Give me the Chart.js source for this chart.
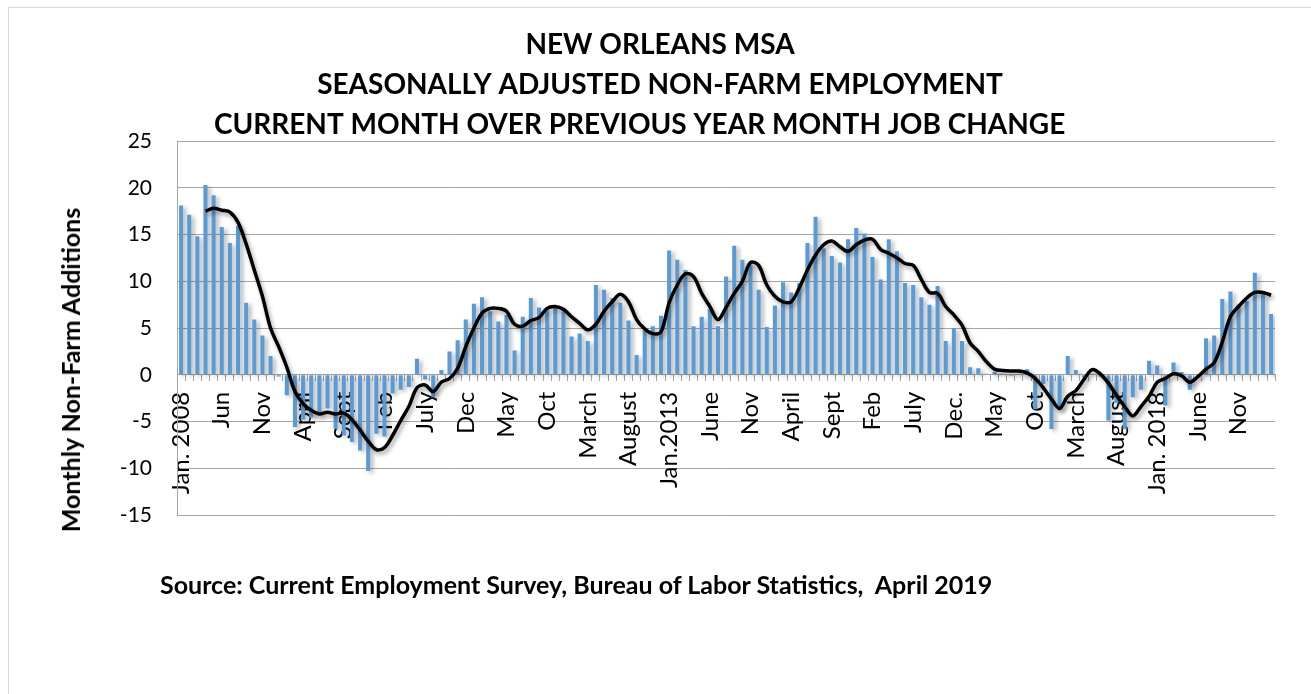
<!DOCTYPE html>
<html lang="en">
<head>
    <meta charset="UTF-8">
    <title>New Orleans MSA Non-Farm Employment</title>
    <script src="https://cdn.jsdelivr.net/npm/chart.js@4.4.1/dist/chart.umd.min.js"></script>
    <style>
        body {
            margin: 0;
            background: #fff;
            font-family: Lato, sans-serif;
        }
        .frame {
            position: absolute;
            left: 8px;
            top: 7px;
            width: 1320px;
            height: 700px;
            border-top: 1px solid #d9d9d9;
            border-left: 1px solid #d9d9d9;
        }
        .chart-box {
            position: absolute;
            left: 0;
            top: 0;
            width: 1311px;
            height: 694px;
        }
        .y-title {
            position: absolute;
            left: 70px;
            top: 370px;
            transform: translate(-50%, -50%) rotate(-90deg);
            white-space: nowrap;
            font: bold 25px Lato, sans-serif;
            color: #000;
        }
        .source {
            position: absolute;
            left: 160px;
            top: 569px;
            white-space: pre;
            font: bold 25px Lato, sans-serif;
            line-height: 30px;
            color: #000;
        }
    </style>
</head>
<body>
    <div class="frame"></div>
    <div class="chart-box">
        <canvas id="jobsChart" width="1311" height="694"></canvas>
    </div>
    <div class="y-title">Monthly Non-Farm Additions</div>
    <div class="source">Source: Current Employment Survey, Bureau of Labor Statistics,  April 2019</div>

    <script>
        // Jan 2008 .. Mar 2019, one entry per month
        const monthNames = ['Jan', 'Feb', 'Mar', 'Apr', 'May', 'Jun', 'Jul', 'Aug', 'Sep', 'Oct', 'Nov', 'Dec'];
        const startYear = 2008;
        const monthCount = 135;
        const months = [];
        for (let i = 0; i < monthCount; i++) {
            months.push(monthNames[i % 12] + ' ' + (startYear + Math.floor(i / 12)));
        }

        // labels shown on the axis, one every 5 months
        const tickLabels = ['Jan. 2008', 'Jun', 'Nov', 'April', 'Sept', 'Feb', 'July', 'Dec', 'May', 'Oct',
            'March', 'August', 'Jan.2013', 'June', 'Nov', 'April', 'Sept', 'Feb', 'July', 'Dec.',
            'May', 'Oct', 'March', 'August', 'Jan. 2018', 'June', 'Nov'];

        // over-the-year job change (thousands)
        const jobChange = [
            18.1, 17.1, 14.8, 20.3, 19.2, 15.8, 14.1, 15.9, 7.7, 5.9, 4.2, 2.0,
            -0.2, -2.2, -5.6, -4.8, -4.6, -4.3, -3.6, -5.8, -6.5, -7.2, -8.1, -10.3,
            -6.3, -6.6, -2.0, -1.6, -1.3, 1.7, -0.5, -2.4, 0.5, 2.5, 3.7, 5.9,
            7.6, 8.3, 6.8, 5.7, 6.4, 2.6, 6.2, 8.2, 7.2, 6.9, 7.2, 6.8,
            4.1, 4.4, 3.6, 9.6, 9.1, 8.2, 7.7, 5.8, 2.1, 4.7, 5.2, 6.3,
            13.3, 12.3, 11.2, 5.2, 6.2, 7.0, 5.2, 10.5, 13.8, 12.3, 11.8, 9.1,
            5.1, 7.4, 9.9, 8.8, 9.8, 14.1, 16.9, 13.5, 12.7, 12.0, 14.5, 15.7,
            15.1, 12.6, 10.2, 14.5, 13.2, 9.8, 9.6, 8.3, 7.5, 9.5, 3.6, 5.0,
            3.6, 0.8, 0.7, 0.1, 0.3, 0.1, -0.1, 0.1, 0.6, -3.7, -1.0, -5.8,
            -3.8, 2.0, 0.5, -0.3, 0.1, -0.2, -4.9, -3.0, -5.8, -2.4, -1.6, 1.5,
            1.0, -3.3, 1.3, 0.3, -1.6, -0.3, 3.9, 4.2, 8.1, 8.9, 7.5, 7.9,
            10.9, 8.6, 6.5
        ];

        // smoothed trend line
        const trend = [
            null, null, null, 17.5, 17.8, 17.6, 17.4, 16.3, 14.0, 11.2, 8.4, 5.0,
            3.0, 0.8, -1.8, -3.1, -3.8, -4.2, -4.0, -4.2, -4.1, -4.8, -5.9, -7.1,
            -8.0, -7.8, -6.5, -4.9, -3.4, -1.4, -1.1, -1.8, -0.8, -0.4, 0.7, 3.0,
            5.0, 6.6, 7.1, 7.1, 6.8, 5.4, 5.2, 5.8, 6.1, 7.1, 7.3, 7.0,
            6.2, 5.5, 4.8, 5.4, 6.8, 7.8, 8.6, 7.8, 5.9, 4.9, 4.4, 4.6,
            7.7, 9.6, 10.8, 10.5, 8.7, 7.3, 5.9, 7.2, 8.7, 10.0, 12.0, 11.7,
            9.6, 8.4, 7.8, 7.8, 9.3, 11.2, 12.8, 13.9, 14.3, 13.7, 13.2, 13.9,
            14.4, 14.5, 13.4, 13.0, 12.5, 11.9, 11.7, 10.2, 8.8, 8.7, 7.3, 6.4,
            5.3, 3.4, 2.5, 1.4, 0.6, 0.45, 0.4, 0.4, 0.2, -0.4, -1.4, -2.6,
            -3.6, -2.3, -1.7, -0.5, 0.55, 0.1, -0.9, -2.2, -3.4, -4.4, -3.4, -2.3,
            -0.8, -0.4, 0.1, -0.1, -0.8, -0.2, 0.6, 1.3, 3.5, 6.2, 7.3, 8.2,
            8.8, 8.8, 8.5
        ];

        // the last line sits a little left of centre in the original
        const titleLines = [
            'NEW ORLEANS MSA',
            'SEASONALLY ADJUSTED NON-FARM EMPLOYMENT',
            'CURRENT MONTH OVER PREVIOUS YEAR MONTH JOB CHANGE      '
        ];

        // soft drop shadow like the spreadsheet chart
        const shadowPlugin = {
            id: 'shadow',
            beforeDatasetDraw(chart, args) {
                const ctx = chart.ctx;
                ctx.save();
                if (args.index === 0) {
                    ctx.shadowColor = 'rgba(0, 0, 0, 0.3)';
                    ctx.shadowBlur = 4;
                    ctx.shadowOffsetX = 3;
                    ctx.shadowOffsetY = 2;
                } else {
                    ctx.shadowColor = 'rgba(0, 0, 0, 0.35)';
                    ctx.shadowBlur = 4;
                    ctx.shadowOffsetX = 2;
                    ctx.shadowOffsetY = 3;
                }
            },
            afterDatasetDraw(chart) {
                chart.ctx.restore();
            }
        };

        new Chart(document.getElementById('jobsChart'), {
            type: 'bar',
            data: {
                labels: months,
                datasets: [{
                    type: 'bar',
                    label: 'Job change',
                    data: jobChange,
                    backgroundColor: '#5b9bd5',
                    categoryPercentage: 0.5,
                    barPercentage: 1.0,
                    order: 2
                }, {
                    type: 'line',
                    label: 'Trend',
                    data: trend,
                    borderColor: '#000',
                    borderWidth: 3.5,
                    pointRadius: 0,
                    tension: 0.35,
                    fill: false,
                    order: 1
                }]
            },
            options: {
                responsive: false,
                animation: false,
                layout: {
                    padding: { left: 40, right: 31, top: 0, bottom: 179 }
                },
                plugins: {
                    legend: { display: false },
                    tooltip: { enabled: false },
                    title: {
                        display: true,
                        text: titleLines,
                        color: '#000',
                        font: { family: 'Lato', size: 28, weight: 'bold', lineHeight: '40px' },
                        padding: { top: 25, bottom: -4 }
                    }
                },
                scales: {
                    x: {
                        position: { y: 0 },
                        grid: {
                            drawOnChartArea: false,
                            drawTicks: true,
                            tickLength: 6,
                            color: '#a6a6a6'
                        },
                        border: { display: true, color: '#a6a6a6', width: 1 },
                        ticks: {
                            autoSkip: false,
                            minRotation: 90,
                            maxRotation: 90,
                            padding: 11,
                            color: '#000',
                            font: { family: 'Lato', size: 24 },
                            callback: (value, index) => index % 5 === 0 ? tickLabels[index / 5] : ''
                        },
                        afterFit: scale => { scale.height = 0; }
                    },
                    y: {
                        min: -15,
                        max: 25,
                        ticks: {
                            stepSize: 5,
                            padding: 25,
                            color: '#000',
                            font: { family: 'Lato', size: 21 }
                        },
                        grid: { color: '#a6a6a6', drawTicks: false },
                        border: { display: true, color: '#a6a6a6' },
                        afterFit: scale => { scale.width = 137; }
                    }
                }
            },
            plugins: [shadowPlugin]
        });
    </script>
</body>
</html>
